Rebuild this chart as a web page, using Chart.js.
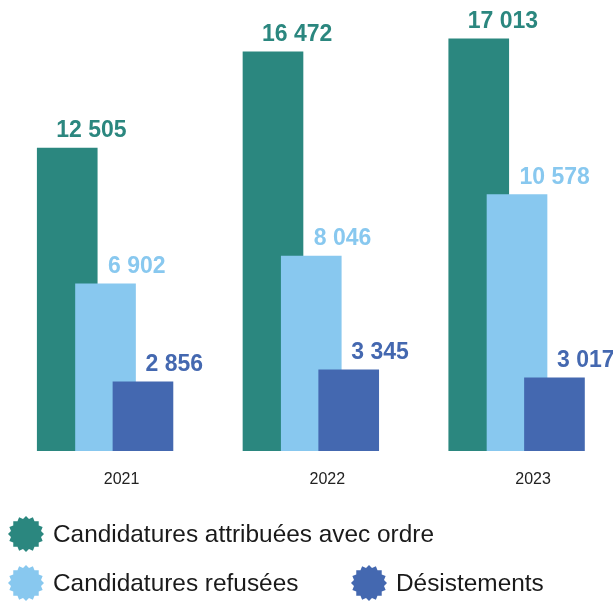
<!DOCTYPE html>
<html>
<head>
<meta charset="utf-8">
<script src="https://cdn.jsdelivr.net/npm/chart.js@4.4.1/dist/chart.umd.min.js"></script>
<style>
  html, body { margin: 0; padding: 0; background: #fff; }
  #wrap { width: 613px; height: 601px; position: relative; }
</style>
</head>
<body>
<div id="wrap"><canvas id="chart"></canvas></div>
<script>
/* ===== DATA ===== */
const years = ["2021", "2022", "2023"];
const attribuees = [12505, 16472, 17013];
const refusees = [6902, 8046, 10578];
const desistements = [2856, 3345, 3017];

const seriesNames = ["Candidatures attribuées avec ordre", "Candidatures refusées", "Désistements"];
const colors = ["#2b877f", "#88c8ef", "#4468b0"];

// bars overlap inside each year: shift each series a bit from the year position
const shift = [-0.186, 0, 0.182];

const fmt = v => String(v).replace(/\B(?=(\d{3})+(?!\d))/g, " ");

function series(values, k) {
  return values.map((v, i) => ({ x: i + shift[k], y: v }));
}

/* ===== VALUE LABELS ===== */
const valueLabels = {
  id: "valueLabels",
  afterDatasetsDraw(chart) {
    const ctx = chart.ctx;
    ctx.save();
    ctx.font = "bold 23px 'Liberation Sans', Arial, sans-serif";
    ctx.textAlign = "left";
    ctx.textBaseline = "alphabetic";
    chart.data.datasets.forEach((ds, k) => {
      const meta = chart.getDatasetMeta(k);
      ctx.fillStyle = ds.backgroundColor;
      meta.data.forEach((bar, i) => {
        const dx = k === 0 ? -11 : 2.5;
        ctx.fillText(fmt(ds.data[i].y), bar.x + dx, bar.y - 11);
      });
    });
    ctx.restore();
  }
};

/* ===== LEGEND (serrated badges) ===== */
function badge(ctx, cx, cy, color) {
  const n = 16, ro = 18, ri = 15.3;
  ctx.beginPath();
  for (let j = 0; j < n * 2; j++) {
    const a = -Math.PI / 2 + j * Math.PI / n;
    const r = j % 2 === 0 ? ro : ri;
    const px = cx + r * Math.cos(a), py = cy + r * Math.sin(a);
    j === 0 ? ctx.moveTo(px, py) : ctx.lineTo(px, py);
  }
  ctx.closePath();
  ctx.fillStyle = color;
  ctx.fill();
}

const badgeLegend = {
  id: "badgeLegend",
  afterDraw(chart) {
    const ctx = chart.ctx;
    const items = [
      { x: 26, y: 534 },
      { x: 26, y: 583 },
      { x: 369, y: 583 }
    ];
    ctx.save();
    ctx.font = "24.4px 'Liberation Sans', Arial, sans-serif";
    ctx.textAlign = "left";
    ctx.textBaseline = "middle";
    items.forEach((it, k) => {
      badge(ctx, it.x, it.y, colors[k]);
      ctx.fillStyle = "#1a1a1a";
      ctx.fillText(seriesNames[k], it.x + 27, it.y + 1);
    });
    ctx.restore();
  }
};

/* ===== CHART ===== */
new Chart(document.getElementById("chart"), {
  type: "bar",
  data: {
    datasets: [
      { label: seriesNames[0], data: series(attribuees, 0), backgroundColor: colors[0], order: 3 },
      { label: seriesNames[1], data: series(refusees, 1), backgroundColor: colors[1], order: 2 },
      { label: seriesNames[2], data: series(desistements, 2), backgroundColor: colors[2], order: 1 }
    ]
  },
  options: {
    responsive: true,
    maintainAspectRatio: false,
    animation: false,
    grouped: false,
    barThickness: 60,
    borderWidth: 0,
    layout: { padding: 0 },
    plugins: {
      legend: { display: false },
      tooltip: { enabled: false }
    },
    scales: {
      x: {
        type: "linear",
        min: -0.5128,
        max: 2.4665,
        offset: false,
        grid: { display: false, drawTicks: false },
        border: { display: false },
        afterBuildTicks(scale) {
          scale.ticks = years.map((y, i) => ({ value: i + 0.078 }));
        },
        afterFit(scale) { scale.height = 150; },
        ticks: {
          autoSkip: false,
          maxRotation: 0,
          padding: 19,
          color: "#222",
          font: { family: "'Liberation Sans', Arial, sans-serif", size: 16 },
          callback: (v, idx) => years[idx]
        }
      },
      y: {
        display: false,
        min: 0,
        max: 18613
      }
    }
  },
  plugins: [valueLabels, badgeLegend]
});
</script>
</body>
</html>
